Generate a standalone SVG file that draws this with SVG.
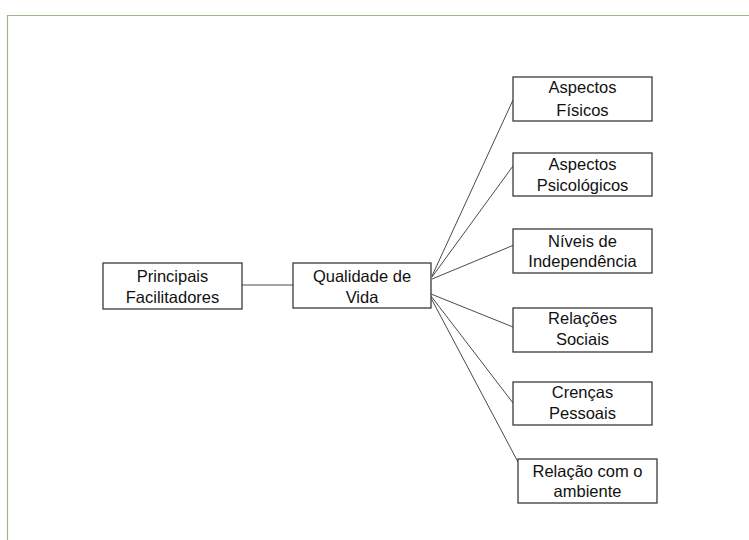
<svg xmlns="http://www.w3.org/2000/svg" width="749" height="540" viewBox="0 0 749 540">
<style>
.box{fill:#fff;stroke:#3a3a3a;stroke-width:1.3}
.t{font-family:"Liberation Sans",Arial,sans-serif;font-size:16.5px;fill:#111;text-anchor:middle}
.c{stroke:#4a4a4a;stroke-width:1;fill:none}
</style>
<rect width="749" height="540" fill="#fff"/>
<path d="M7.5 540 V15.5 H749" fill="none" stroke="#9cb888" stroke-width="1.2"/>
<g id="connectors">
<line class="c" x1="242" y1="285" x2="293" y2="285"/>
<line class="c" x1="432" y1="276" x2="513" y2="100"/>
<line class="c" x1="432" y1="277" x2="513" y2="166"/>
<line class="c" x1="432" y1="279" x2="514" y2="245"/>
<line class="c" x1="431" y1="294" x2="513" y2="327"/>
<line class="c" x1="431" y1="296" x2="513" y2="403"/>
<line class="c" x1="431" y1="298" x2="518" y2="462"/>
</g>
<g id="principais"><rect class="box" x="103" y="263" width="139" height="46"/><text class="t" x="172.5" y="282">Principais</text><text class="t" x="172.5" y="303">Facilitadores</text></g>
<g id="qualidade"><rect class="box" x="293" y="263" width="138" height="45"/><text class="t" x="362" y="282">Qualidade de</text><text class="t" x="362" y="303">Vida</text></g>
<g id="fisicos"><rect class="box" x="513" y="77" width="139" height="44"/><text class="t" x="582.5" y="93">Aspectos</text><text class="t" x="582.5" y="116">Físicos</text></g>
<g id="psicologicos"><rect class="box" x="513" y="153" width="139" height="43"/><text class="t" x="582.5" y="170">Aspectos</text><text class="t" x="582.5" y="191">Psicológicos</text></g>
<g id="niveis"><rect class="box" x="513" y="229" width="139" height="44"/><text class="t" x="582.5" y="247">Níveis de</text><text class="t" x="582.5" y="267">Independência</text></g>
<g id="sociais"><rect class="box" x="513" y="308" width="139" height="44"/><text class="t" x="582.5" y="324">Relações</text><text class="t" x="582.5" y="345">Sociais</text></g>
<g id="crencas"><rect class="box" x="513" y="382" width="139" height="43"/><text class="t" x="582.5" y="398">Crenças</text><text class="t" x="582.5" y="419">Pessoais</text></g>
<g id="ambiente"><rect class="box" x="518" y="459" width="139" height="44"/><text class="t" x="587.5" y="477">Relação com o</text><text class="t" x="587.5" y="497">ambiente</text></g>
</svg>
